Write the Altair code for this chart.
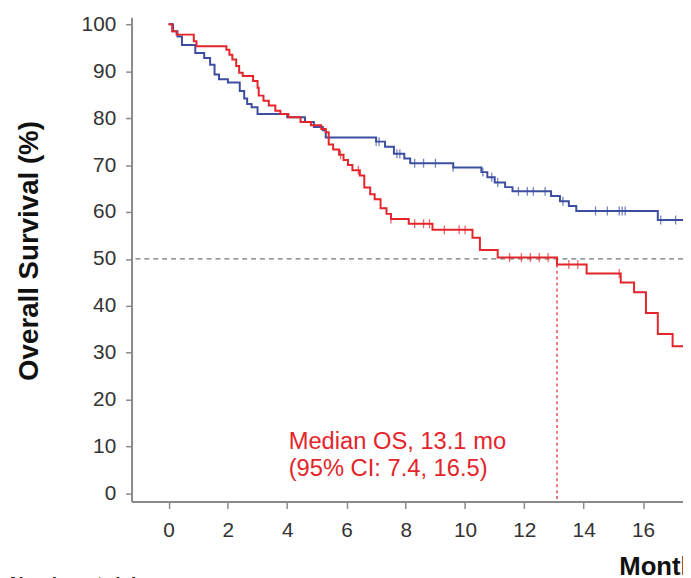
import altair as alt
import pandas as pd

# Kaplan-Meier step data (time in months, survival %)
blue_t = [0, 0.15, 0.3, 0.45, 0.9, 1.2, 1.4, 1.55, 1.7, 2.0, 2.4, 2.55, 2.65, 2.8, 3.0,
          4.0, 4.6, 4.9, 5.2, 5.3, 7.0, 7.3, 7.6, 7.95, 8.15, 9.6, 10.55, 10.75, 11.0,
          11.35, 11.6, 12.9, 13.2, 13.5, 13.75, 16.5, 17.4]
blue_s = [100, 98.5, 97.4, 95.6, 93.9, 92.8, 91.4, 89.3, 88.3, 87.6, 85.8, 84.2, 83.0, 82.3, 80.9,
          80.2, 79.2, 78.1, 77.4, 75.9, 75.0, 73.9, 72.4, 71.4, 70.4, 69.5, 68.5, 67.4, 66.3,
          65.3, 64.4, 63.4, 62.3, 61.3, 60.2, 58.3, 58.3]

red_t = [0, 0.12, 0.27, 0.85, 0.94, 1.95, 2.05, 2.15, 2.28, 2.38, 2.5, 2.85, 3.0, 3.04, 3.2,
         3.38, 3.6, 3.77, 4.04, 4.45, 4.8, 5.15, 5.3, 5.4, 5.55, 5.75, 5.9, 6.05, 6.2, 6.45,
         6.6, 6.8, 6.95, 7.15, 7.35, 7.5, 8.1, 8.9, 10.25, 10.5, 11.1, 13.1, 14.1, 15.25,
         15.7, 16.1, 16.5, 17.0, 17.4]
red_s = [100, 98.5, 97.8, 96.4, 95.3, 94.6, 93.5, 92.5, 91.1, 89.7, 89.0, 87.9, 86.5, 84.8, 83.7,
         82.7, 81.6, 80.9, 80.2, 79.2, 78.5, 77.7, 77.0, 74.4, 73.3, 72.2, 71.1, 70.0, 68.9, 67.8,
         65.2, 63.8, 62.7, 60.8, 59.6, 58.5, 57.5, 56.2, 54.5, 51.9, 50.3, 48.8, 46.9, 45.0,
         42.9, 38.5, 34.0, 31.4, 31.4]

blue_cens = [7.0, 7.1, 7.7, 7.8, 8.3, 8.6, 9.0, 9.6, 10.6, 10.9, 11.1, 11.8, 12.1, 12.3,
             12.7, 13.3, 14.4, 14.8, 15.2, 15.3, 15.4, 16.6, 17.1]
red_cens = [5.8, 6.4, 7.5, 8.3, 8.6, 8.8, 9.3, 9.8, 10.0, 11.5, 11.9, 12.2, 12.5, 12.8,
            13.5, 13.8, 15.2]

x_ticks = [0, 2, 4, 6, 8, 10, 12, 14, 16]
y_ticks = [0, 10, 20, 30, 40, 50, 60, 70, 80, 90, 100]

median_t = 13.1
ann_lines = ["Median OS, 13.1 mo", "(95% CI: 7.4, 16.5)"]
ann_x, ann_y = 4.05, 11.0

X_MIN, X_MAX = -1.25, 17.35
Y_MIN, Y_MAX = -1.7, 101.5

BLUE = "#3c4ea0"
RED = "#e4252b"
FONT = "Liberation Sans"


def surv_at(ts, ss, t):
    v = ss[0]
    for ti, si in zip(ts, ss):
        if ti <= t:
            v = si
    return v


curve_df = pd.concat([
    pd.DataFrame({"t": blue_t, "s": blue_s, "arm": "A", "o": range(len(blue_t))}),
    pd.DataFrame({"t": red_t, "s": red_s, "arm": "B", "o": range(len(red_t))}),
])
cens_df = pd.concat([
    pd.DataFrame({"t": blue_cens, "s": [surv_at(blue_t, blue_s, c) for c in blue_cens], "arm": "A"}),
    pd.DataFrame({"t": red_cens, "s": [surv_at(red_t, red_s, c) for c in red_cens], "arm": "B"}),
])

xscale = alt.Scale(domain=[X_MIN, X_MAX], nice=False, zero=False)
yscale = alt.Scale(domain=[Y_MIN, Y_MAX], nice=False, zero=False)
color = alt.Color("arm:N", scale=alt.Scale(domain=["A", "B"], range=[BLUE, RED]), legend=None)

x_axis = alt.Axis(values=x_ticks, title="Months", grid=False, domainColor="#8a8a8a", domainWidth=2,
                  tickColor="#8a8a8a", tickWidth=1.5, tickSize=7, labelFontSize=21, labelFont=FONT,
                  labelColor="#333333", labelPadding=11, titleFont=FONT, titleFontSize=26,
                  titleFontWeight="bold", titleColor="#111111", titleAlign="left",
                  titleBaseline="top", titleX=493, titleY=53)
y_axis = alt.Axis(values=y_ticks, title="Overall Survival (%)", grid=False, domainColor="#8a8a8a",
                  domainWidth=2, tickColor="#8a8a8a", tickWidth=1.5, tickSize=6, labelFontSize=21,
                  labelFont=FONT, labelColor="#333333", labelPadding=10, titleFont=FONT,
                  titleFontSize=28, titleFontWeight="bold", titleColor="#111111",
                  titleX=-103, titleY=236, titleAngle=-90, titleAlign="center",
                  titleBaseline="middle")

lines = alt.Chart(curve_df).mark_line(interpolate="step-after", strokeWidth=2, clip=True).encode(
    x=alt.X("t:Q", scale=xscale, axis=x_axis),
    y=alt.Y("s:Q", scale=yscale, axis=y_axis),
    color=color,
    detail="arm:N",
    order="o:Q",
)

cens = alt.Chart(cens_df).mark_tick(orient="vertical", size=9, thickness=1.3, clip=True).encode(
    x=alt.X("t:Q", scale=xscale),
    y=alt.Y("s:Q", scale=yscale),
    color=color,
)

hline = alt.Chart(pd.DataFrame({"y": [50]})).mark_rule(
    color="#777777", strokeWidth=1.3, strokeDash=[5, 4]).encode(y=alt.Y("y:Q", scale=yscale))

vline = alt.Chart(pd.DataFrame({"x": [median_t], "y": [50], "y2": [Y_MIN]})).mark_rule(
    color="#e0505a", strokeWidth=1.5, strokeDash=[3, 3]).encode(
    x=alt.X("x:Q", scale=xscale), y=alt.Y("y:Q", scale=yscale), y2="y2:Q")

ann = alt.Chart(pd.DataFrame({"x": [ann_x], "y": [ann_y], "txt": ["\n".join(ann_lines)]})).mark_text(
    align="left", baseline="middle", font=FONT, fontSize=24, color=RED, lineBreak="\n",
    lineHeight=27).encode(x=alt.X("x:Q", scale=xscale), y=alt.Y("y:Q", scale=yscale), text="txt:N")

risk = alt.Chart(pd.DataFrame({"txt": ["Number at risk"]})).mark_text(
    align="left", baseline="top", font=FONT, fontSize=19, fontWeight="bold", color="#222222").encode(
    x=alt.value(-123), y=alt.value(565), text="txt:N")

chart = alt.layer(hline, vline, lines, cens, ann, risk).properties(
    width=558, height=490,
    padding={"left": 125, "top": 6, "right": 0, "bottom": 74},
    autosize=alt.AutoSizeParams(type="none"),
).configure_view(stroke=None)

chart.save("out.html", embed_options={"renderer": "svg", "actions": False})
